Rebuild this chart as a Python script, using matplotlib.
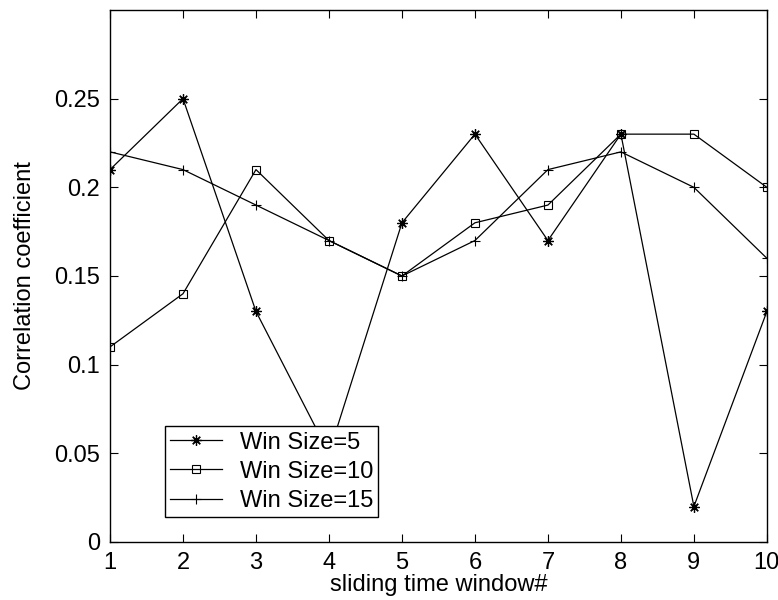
import matplotlib
matplotlib.use("Agg")
import matplotlib.pyplot as plt

plt.rcParams['font.family'] = ['Liberation Sans', 'DejaVu Sans']

windows = [1, 2, 3, 4, 5, 6, 7, 8, 9, 10]
win5 = [0.21, 0.25, 0.13, 0.05, 0.18, 0.23, 0.17, 0.23, 0.02, 0.13]
win10 = [0.11, 0.14, 0.21, 0.17, 0.15, 0.18, 0.19, 0.23, 0.23, 0.20]
win15 = [0.22, 0.21, 0.19, 0.17, 0.15, 0.17, 0.21, 0.22, 0.20, 0.16]
yticks = [0, 0.05, 0.1, 0.15, 0.2, 0.25]
ytick_labels = ['0', '0.05', '0.1', '0.15', '0.2', '0.25']

fig = plt.figure(figsize=(7.78, 6.0), dpi=100)
ax = fig.add_axes([0.1414, 0.0967, 0.8443, 0.8866])

# matlab style markers: 8-arm asterisk, open square, plus
ax.plot(windows, win5, color='black', lw=0.9, marker=(8, 2, 0), ms=7.5, mew=0.9,
        label='Win Size=5')
ax.plot(windows, win10, color='black', lw=0.9, marker='s', ms=6, mfc='none',
        mew=0.8, label='Win Size=10')
ax.plot(windows, win15, color='black', lw=0.9, marker='+', ms=7, mew=0.8,
        label='Win Size=15')

ax.set_xlim(1, 10)
ax.set_ylim(0, 0.3)
ax.set_xticks(windows)
ax.set_yticks(yticks)
ax.set_yticklabels(ytick_labels)
ax.tick_params(direction='in', top=True, right=True, labelsize=17, length=6,
               width=0.8, pad=7)
for s in ax.spines.values():
    s.set_linewidth(1.0)

ax.set_xlabel('sliding time window#', fontsize=17, labelpad=0)
ax.set_ylabel('Correlation coefficient', fontsize=17, labelpad=13)

leg = ax.legend(loc='lower left', bbox_to_anchor=(0.0837, 0.047), fontsize=17,
                fancybox=False, edgecolor='black', framealpha=1,
                handlelength=2.2, borderpad=0.22, labelspacing=0.3,
                handletextpad=0.75, borderaxespad=0)
leg.get_frame().set_linewidth(1.0)

fig.savefig('out.png', dpi=100)
